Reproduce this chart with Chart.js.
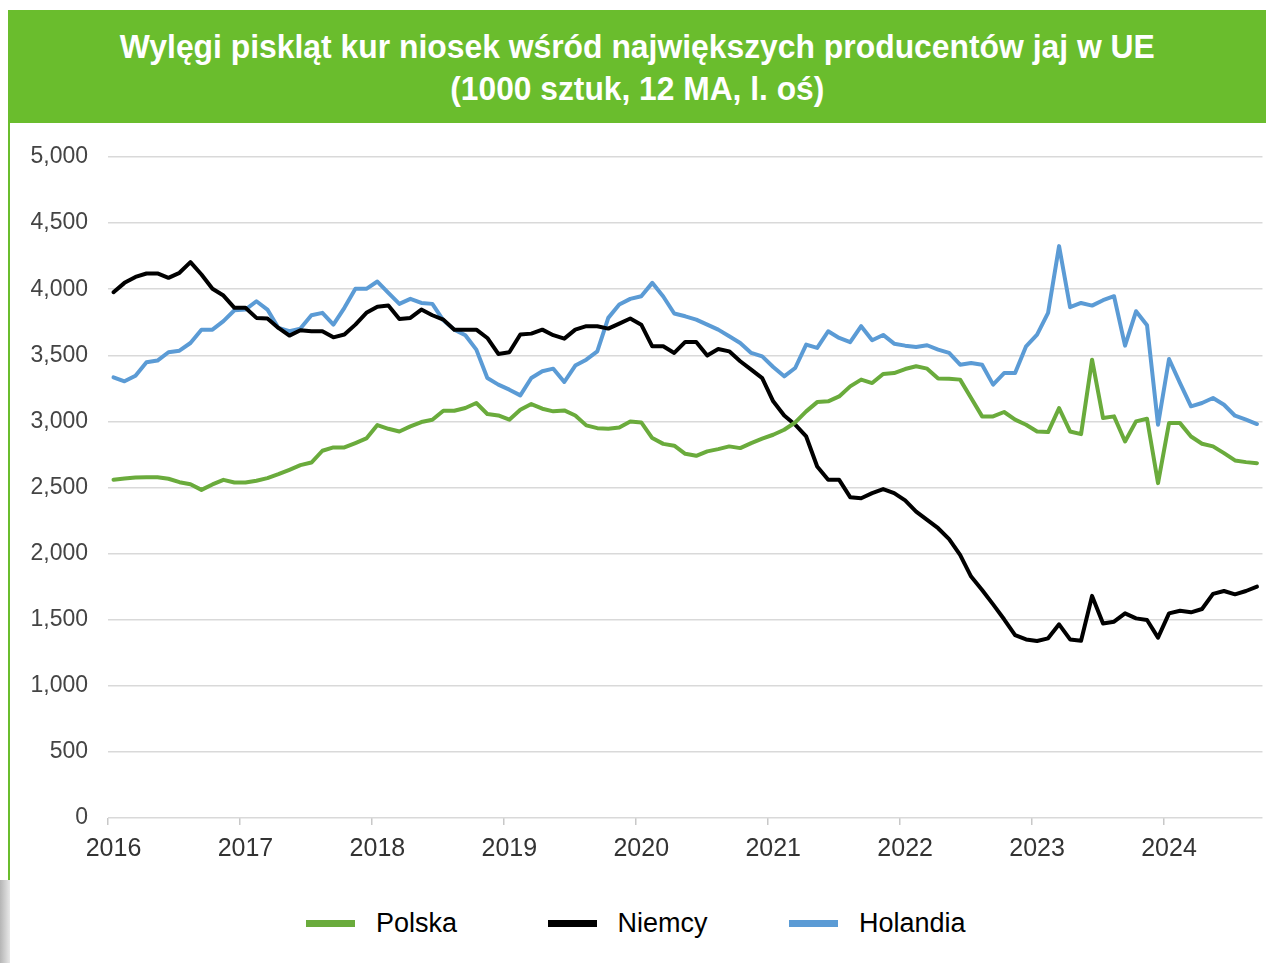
<!DOCTYPE html>
<html lang="pl">
<head>
<meta charset="utf-8">
<title>Wylęgi piskląt kur niosek</title>
<script src="https://cdn.jsdelivr.net/npm/chart.js@4.4.1/dist/chart.umd.min.js"></script>
<style>
  html, body { margin: 0; padding: 0; background: #fff; }
  body { width: 1266px; height: 963px; position: relative; overflow: hidden; font-family: "Liberation Sans", Arial, sans-serif; }
  .header { position: absolute; left: 8px; top: 10px; width: 1258px; height: 113px; background: #6abd2d; color: #fff; text-align: center; font-weight: bold; font-size: 34px; padding-top: 15px; box-sizing: border-box; }
  .header div { line-height: 42px; white-space: nowrap; }
  .header span { display: inline-block; font-family: "Liberation Sans Narrow", "Liberation Sans", Arial, sans-serif; }
  .side { position: absolute; left: 8px; top: 123px; width: 2px; height: 757px; background: #6abd2d; }
  .side-shade { position: absolute; left: 0; top: 880px; width: 10px; height: 83px; background: linear-gradient(to right, #b5b5b5, #e8e8e8); }
  .chart-box { position: absolute; left: 0; top: 123px; width: 1266px; height: 745px; }
  #legend { position: absolute; left: 306px; top: 905px; margin: 0; padding: 0; list-style: none; display: flex; }
  #legend li { width: 241.5px; height: 36px; display: flex; align-items: center; font-size: 27px; color: #000; }
  #legend .swatch { display: inline-block; width: 49px; height: 7px; margin-right: 21px; }
</style>
</head>
<body>
<div class="header">
  <div><span>Wylęgi piskląt kur niosek wśród największych producentów jaj w UE</span></div>
  <div><span>(1000 sztuk, 12 MA, l. oś)</span></div>
</div>
<div class="side"></div>
<div class="side-shade"></div>
<div class="chart-box"><canvas id="hatchChart"></canvas></div>
<ul id="legend"></ul>

<script>
// Months: Jan 2016 .. Sep 2024 (12-month moving average, 1000 szt.)
const firstYear = 2016;
const lastMonth = '2024-09';
const months = [];
for (let y = firstYear; ; y++) {
    let done = false;
    for (let m = 1; m <= 12; m++) {
        const key = `${y}-${String(m).padStart(2, '0')}`;
        months.push(key);
        if (key === lastMonth) { done = true; break; }
    }
    if (done) break;
}

const polska = [
    2558, 2568, 2576, 2578, 2578, 2566, 2540, 2525, 2482, 2523, 2558, 2538,
    2538, 2551, 2571, 2601, 2634, 2669, 2689, 2778, 2803, 2803, 2836, 2871,
    2972, 2944, 2924, 2962, 2995, 3013, 3081, 3081, 3101, 3139, 3056, 3045,
    3013, 3088, 3131, 3096, 3076, 3083, 3045, 2970, 2949, 2944, 2954, 3000,
    2992, 2874, 2830, 2816, 2755, 2740, 2773, 2790, 2811, 2798, 2836, 2869,
    2899, 2937, 2992, 3076, 3146, 3152, 3189, 3265, 3316, 3290, 3359, 3366,
    3396, 3417, 3399, 3325, 3323, 3316, 3177, 3038, 3038, 3071, 3013, 2975,
    2924, 2919, 3101, 2924, 2904, 3467, 3025, 3038, 2848, 3000, 3020, 2533,
    2987, 2987, 2886, 2831, 2811, 2760, 2705, 2692, 2684
];

const niemcy = [
    3977, 4048, 4093, 4119, 4119, 4086, 4124, 4205, 4111, 4003, 3952, 3859,
    3859, 3783, 3778, 3707, 3649, 3689, 3682, 3682, 3636, 3657, 3732, 3821,
    3868, 3876, 3775, 3783, 3846, 3803, 3770, 3694, 3694, 3694, 3631, 3510,
    3523, 3657, 3664, 3694, 3652, 3626, 3694, 3720, 3720, 3702, 3740, 3778,
    3732, 3568, 3568, 3518, 3601, 3601, 3498, 3548, 3530, 3455, 3391, 3328,
    3152, 3045, 2975, 2886, 2659, 2558, 2558, 2427, 2419, 2457, 2488, 2457,
    2402, 2318, 2255, 2192, 2110, 1990, 1826, 1725, 1616, 1503, 1384, 1351,
    1339, 1359, 1465, 1351, 1341, 1680, 1472, 1485, 1548, 1510, 1498, 1364,
    1548, 1568, 1556, 1581, 1695, 1717, 1692, 1717, 1750
];

const holandia = [
    3333, 3303, 3346, 3447, 3460, 3523, 3535, 3593, 3694, 3694, 3758, 3841,
    3846, 3909, 3846, 3707, 3682, 3702, 3803, 3821, 3732, 3859, 4003, 4003,
    4058, 3972, 3889, 3927, 3896, 3889, 3765, 3694, 3652, 3543, 3328, 3278,
    3240, 3197, 3328, 3379, 3399, 3298, 3422, 3467, 3530, 3783, 3884, 3927,
    3947, 4048, 3945, 3816, 3795, 3770, 3732, 3694, 3644, 3593, 3518, 3492,
    3412, 3341, 3404, 3581, 3556, 3682, 3631, 3599, 3720, 3614, 3654, 3588,
    3573, 3563, 3576, 3543, 3518, 3429, 3442, 3429, 3278, 3366, 3366, 3568,
    3657, 3821, 4326, 3864, 3896, 3876, 3917, 3947, 3573, 3833, 3727, 2975,
    3472, 3290, 3114, 3139, 3177, 3126, 3043, 3013, 2980
];

const seriesNames = ['Polska', 'Niemcy', 'Holandia'];

// Title lines are squeezed to the width of the condensed original font
const titleWidths = [1035, 374];
document.querySelectorAll('.header span').forEach((el, i) => {
    const w = el.getBoundingClientRect().width;
    el.style.transform = `scaleX(${titleWidths[i] / w})`;
});

const green = '#6aab3c';
const blue = '#5b9bd5';
const isJanuary = (i) => months[i] !== undefined && months[i].endsWith('-01');

// Legend as HTML, built from the chart's own legend items
const htmlLegend = {
    id: 'htmlLegend',
    afterUpdate(chart) {
        const list = document.getElementById('legend');
        list.innerHTML = '';
        const items = chart.options.plugins.legend.labels.generateLabels(chart);
        items.forEach(item => {
            const li = document.createElement('li');
            const box = document.createElement('span');
            box.className = 'swatch';
            box.style.background = item.strokeStyle;
            const text = document.createElement('span');
            text.textContent = item.text;
            li.append(box, text);
            list.appendChild(li);
        });
    }
};

Chart.defaults.font.family = "'Liberation Sans', Arial, sans-serif";

new Chart(document.getElementById('hatchChart'), {
    type: 'line',
    data: {
        labels: months,
        datasets: [
            { label: seriesNames[0], data: polska, borderColor: green, backgroundColor: green },
            { label: seriesNames[1], data: niemcy, borderColor: '#000000', backgroundColor: '#000000' },
            { label: seriesNames[2], data: holandia, borderColor: blue, backgroundColor: blue }
        ]
    },
    options: {
        responsive: true,
        maintainAspectRatio: false,
        animation: false,
        layout: {
            padding: { top: 34, right: 3, bottom: 0, left: 0 }
        },
        elements: {
            line: { borderWidth: 4, tension: 0, borderJoinStyle: 'round', borderCapStyle: 'round' },
            point: { radius: 0, hoverRadius: 0 }
        },
        plugins: {
            legend: { display: false },
            tooltip: { enabled: false }
        },
        scales: {
            x: {
                offset: true,
                border: { display: false },
                grid: {
                    offset: true,
                    drawOnChartArea: false,
                    drawTicks: true,
                    tickLength: 7,
                    lineWidth: 1.5,
                    color: (ctx) => isJanuary(ctx.index) ? '#c8c8c8' : 'rgba(0,0,0,0)'
                },
                ticks: {
                    autoSkip: false,
                    maxRotation: 0,
                    minRotation: 0,
                    padding: 9,
                    color: '#333',
                    font: { size: 25 },
                    callback: (value, index) => isJanuary(index) ? months[index].slice(0, 4) : ''
                },
                afterFit: (scale) => { scale.height = 50; }
            },
            y: {
                min: 0,
                max: 5000,
                border: { display: false },
                grid: { drawTicks: false, color: '#d9d9d9', lineWidth: 1.5 },
                ticks: {
                    stepSize: 500,
                    padding: 20,
                    color: '#444',
                    font: { size: 23 },
                    callback: (value) => value.toLocaleString('en-US')
                },
                afterFit: (scale) => { scale.width = 108; }
            }
        }
    },
    plugins: [htmlLegend]
});
</script>
</body>
</html>
